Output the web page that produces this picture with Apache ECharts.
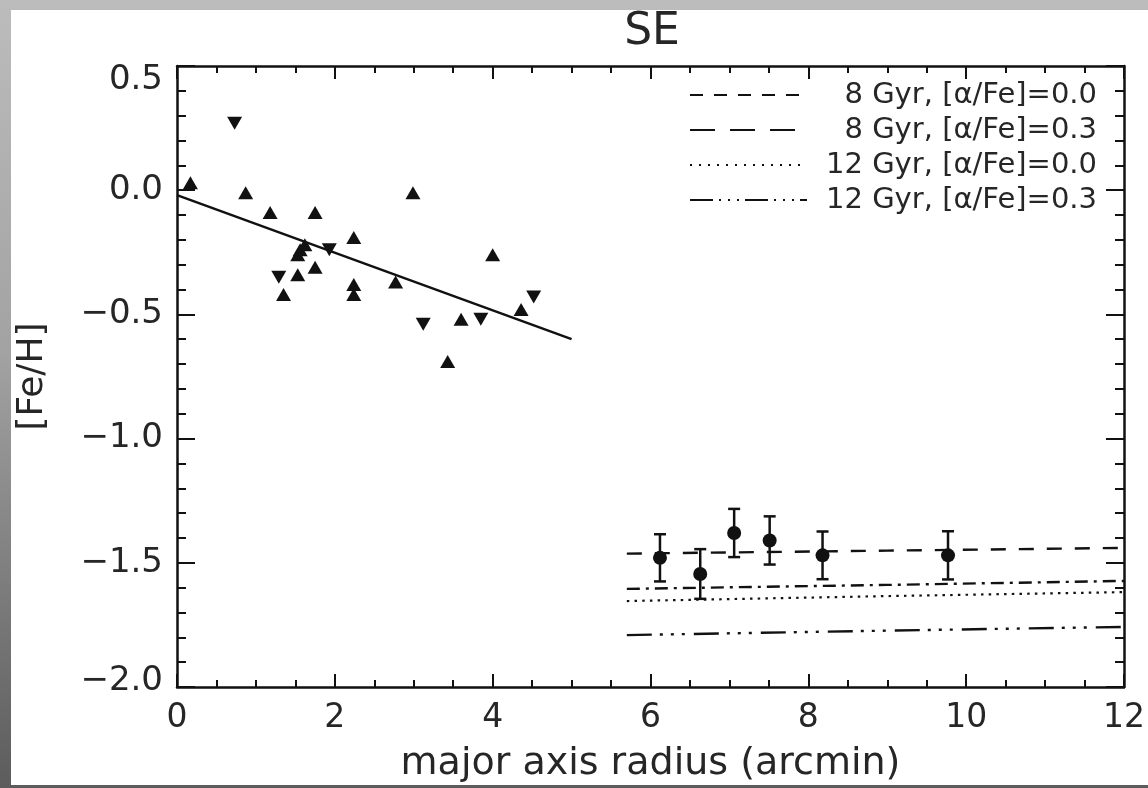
<!DOCTYPE html>
<html>
<head>
<meta charset="utf-8">
<title>SE [Fe/H] gradient</title>
<script src="https://cdn.jsdelivr.net/npm/echarts@6/dist/echarts.min.js"></script>
<style>
  html, body { margin: 0; padding: 0; }
  body { width: 1148px; height: 788px; position: relative; overflow: hidden; }
  #bg { position: absolute; left: 0; top: 0; width: 1148px; height: 788px;
        background: linear-gradient(to bottom, #bcbcbc 0%, #a2a2a2 45%, #5c5c5c 100%); }
  #paper { position: absolute; left: 11px; top: 10px; width: 1137px; height: 775px; background: #ffffff; }
  #chart { position: absolute; left: 0; top: 0; width: 1148px; height: 788px; }
</style>
</head>
<body>
<div id="bg"></div>
<div id="paper"></div>
<div id="chart"></div>
<script>
// Inner disc fields (major axis radius in arcmin, [Fe/H])
const upR   = [0.17, 0.87, 1.18, 1.75, 2.99, 2.24, 1.62, 1.53, 1.56, 1.75, 1.53, 1.35, 2.24, 2.24, 2.77, 4.00, 3.60, 4.36, 3.43];
const upFeH = [0.03, -0.01, -0.09, -0.09, -0.01, -0.19, -0.22, -0.26, -0.24, -0.31, -0.34, -0.42, -0.38, -0.42, -0.37, -0.26, -0.52, -0.48, -0.69];
const downR   = [0.73, 1.93, 1.29, 3.12, 3.85, 4.52];
const downFeH = [0.27, -0.24, -0.35, -0.54, -0.52, -0.43];

// Linear gradient fit to the inner points
const fitR   = [0, 5];
const fitFeH = [-0.02, -0.60];

// Outer fields with error bars
const fieldR   = [6.12, 6.63, 7.06, 7.51, 8.18, 9.77];
const fieldFeH = [-1.48, -1.545, -1.38, -1.41, -1.47, -1.47];
const fieldErr = [0.095, 0.10, 0.097, 0.097, 0.096, 0.097];

// Model tracks
const modelR     = [5.7, 9.0, 12.0];
const model8a00  = [-1.463, -1.451, -1.440];
const model8a03  = [-1.605, -1.589, -1.573];
const model12a00 = [-1.654, -1.634, -1.618];
const model12a03 = [-1.791, -1.773, -1.758];
const modelNames = ['8 Gyr, [α/Fe]=0.0', '8 Gyr, [α/Fe]=0.3', '12 Gyr, [α/Fe]=0.0', '12 Gyr, [α/Fe]=0.3'];

// Axis ticks
const xTickValues = [0, 2, 4, 6, 8, 10, 12];
const yTickValues = [-2.0, -1.5, -1.0, -0.5, 0.0, 0.5];

const INK = '#111111';
const TXT = '#262626';
const FONT = '"DejaVu Sans", sans-serif';

const zip = (a, b) => a.map((v, i) => [v, b[i]]);

const chart = echarts.init(document.getElementById('chart'), null, { renderer: 'canvas' });

function yLabel(v) {
  const s = Math.abs(v).toFixed(1);
  const t = (v < 0 ? '\u2212' : '') + s;
  if (Math.abs(v - yTickValues[yTickValues.length - 1]) < 1e-9) return '{top|' + t + '}';
  if (Math.abs(v - yTickValues[0]) < 1e-9) return '{bot|' + t + '}';
  return t;
}

const axisCommon = {
  axisLine: { show: true, onZero: false, lineStyle: { color: INK, width: 2.5 } },
  splitLine: { show: false }
};

const dashShort = [15, 13];
const dashDot = [13, 6, 3, 6];
const dotted = [2.5, 5.2];
const dashDot3 = [25, 8, 3, 8, 3, 8, 3, 9];

const legendDashes = [[13, 11], [25, 15], [2, 7], [23, 6, 2, 7, 2, 7, 2, 6]];

const legendGraphics = [];
const legendRowY = [95, 130, 165, 200];
modelNames.forEach((name, i) => {
  legendGraphics.push({
    type: 'line',
    shape: { x1: 690, y1: legendRowY[i], x2: 807, y2: legendRowY[i] },
    style: { stroke: INK, lineWidth: 2, lineDash: legendDashes[i] },
    z: 10
  });
  legendGraphics.push({
    type: 'text',
    x: 1097, y: legendRowY[i],
    style: { text: name, font: '29px ' + FONT, fill: TXT, align: 'right', verticalAlign: 'middle' },
    z: 10
  });
});

const option = {
  backgroundColor: 'transparent',
  animation: false,
  title: {
    text: 'SE',
    left: 647, top: 6, textAlign: 'center',
    textStyle: { fontFamily: FONT, fontSize: 44, fontWeight: 'normal', color: TXT }
  },
  grid: { left: 177, top: 66, right: 22, bottom: 101, containLabel: false },
  xAxis: [
    Object.assign({}, axisCommon, {
      type: 'value', min: 0, max: 12, interval: 2, position: 'bottom',
      name: 'major axis radius (arcmin)', nameLocation: 'middle', nameGap: 58,
      nameTextStyle: { fontFamily: FONT, fontSize: 38, color: TXT },
      axisTick: { show: true, inside: true, length: 13, lineStyle: { color: INK, width: 2 } },
      minorTick: { show: true, splitNumber: 4, length: 7, lineStyle: { color: INK, width: 2 } },
      axisLabel: { show: true, margin: 15, fontFamily: FONT, fontSize: 33, color: TXT,
        showMinLabel: true, showMaxLabel: true,
        formatter: v => xTickValues.includes(v) ? String(v) : '' }
    }),
    Object.assign({}, axisCommon, {
      type: 'value', min: 0, max: 12, interval: 2, position: 'top',
      axisTick: { show: true, inside: true, length: 13, lineStyle: { color: INK, width: 2 } },
      minorTick: { show: true, splitNumber: 4, length: 7, lineStyle: { color: INK, width: 2 } },
      axisLabel: { show: false }
    })
  ],
  yAxis: [
    Object.assign({}, axisCommon, {
      type: 'value', min: -2, max: 0.5, interval: 0.5, position: 'left',
      name: '[Fe/H]', nameLocation: 'middle', nameGap: 126, nameRotate: 90,
      nameTextStyle: { fontFamily: FONT, fontSize: 36, color: TXT },
      axisTick: { show: true, inside: true, length: 18, lineStyle: { color: INK, width: 2 } },
      minorTick: { show: true, splitNumber: 5, length: 9, lineStyle: { color: INK, width: 2 } },
      axisLabel: { show: true, margin: 14, fontFamily: FONT, fontSize: 34, color: TXT,
        showMinLabel: true, showMaxLabel: true,
        formatter: yLabel,
        rich: {
          top: { fontFamily: FONT, fontSize: 34, color: TXT, padding: [28, 0, 0, 0] },
          bot: { fontFamily: FONT, fontSize: 34, color: TXT, padding: [0, 0, 12, 0] }
        } }
    }),
    Object.assign({}, axisCommon, {
      type: 'value', min: -2, max: 0.5, interval: 0.5, position: 'right',
      axisTick: { show: true, inside: true, length: 18, lineStyle: { color: INK, width: 2 } },
      minorTick: { show: true, splitNumber: 5, length: 9, lineStyle: { color: INK, width: 2 } },
      axisLabel: { show: false }
    })
  ],
  graphic: legendGraphics,
  series: [
    {
      name: 'fit', type: 'line', data: zip(fitR, fitFeH),
      showSymbol: false, symbol: 'none', clip: true,
      lineStyle: { color: INK, width: 2.4, type: 'solid' }, z: 3
    },
    {
      name: 'inner (up)', type: 'scatter', data: zip(upR, upFeH),
      symbol: 'triangle', symbolSize: [15, 13],
      itemStyle: { color: INK, opacity: 1 }, z: 4
    },
    {
      name: 'inner (down)', type: 'scatter', data: zip(downR, downFeH),
      symbol: 'triangle', symbolSize: [15, 13], symbolRotate: 180,
      itemStyle: { color: INK, opacity: 1 }, z: 4
    },
    {
      name: modelNames[0], type: 'line', data: zip(modelR, model8a00),
      showSymbol: false, symbol: 'none',
      lineStyle: { color: INK, width: 2.4, type: dashShort }, z: 2
    },
    {
      name: modelNames[1], type: 'line', data: zip(modelR, model8a03),
      showSymbol: false, symbol: 'none',
      lineStyle: { color: INK, width: 2.4, type: dashDot }, z: 2
    },
    {
      name: modelNames[2], type: 'line', data: zip(modelR, model12a00),
      showSymbol: false, symbol: 'none',
      lineStyle: { color: INK, width: 2.2, type: dotted }, z: 2
    },
    {
      name: modelNames[3], type: 'line', data: zip(modelR, model12a03),
      showSymbol: false, symbol: 'none',
      lineStyle: { color: INK, width: 2.4, type: dashDot3 }, z: 2
    },
    {
      name: 'error bars', type: 'custom',
      data: fieldR.map((r, i) => [r, fieldFeH[i], fieldErr[i]]),
      renderItem: function (params, api) {
        const x = api.value(0), y = api.value(1), e = api.value(2);
        const hi = api.coord([x, y + e]);
        const lo = api.coord([x, y - e]);
        const cap = 6;
        const st = { stroke: INK, lineWidth: 2.5 };
        return {
          type: 'group',
          children: [
            { type: 'line', shape: { x1: hi[0], y1: hi[1], x2: lo[0], y2: lo[1] }, style: st },
            { type: 'line', shape: { x1: hi[0] - cap, y1: hi[1], x2: hi[0] + cap, y2: hi[1] }, style: st },
            { type: 'line', shape: { x1: lo[0] - cap, y1: lo[1], x2: lo[0] + cap, y2: lo[1] }, style: st }
          ]
        };
      },
      z: 5
    },
    {
      name: 'outer', type: 'scatter', data: zip(fieldR, fieldFeH),
      symbol: 'circle', symbolSize: 14,
      itemStyle: { color: INK, opacity: 1 }, z: 6
    }
  ]
};

chart.setOption(option);
</script>
</body>
</html>
